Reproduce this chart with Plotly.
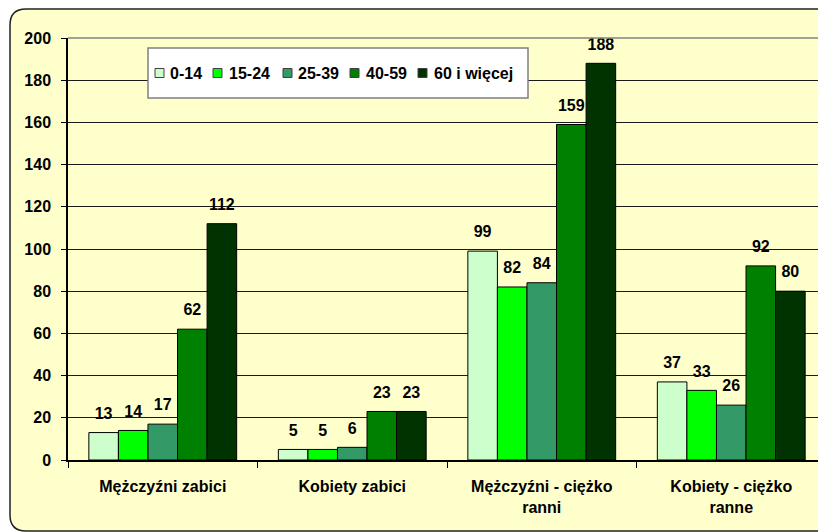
import plotly.graph_objects as go

categories = ["Mężczyźni zabici", "Kobiety zabici", "Mężczyźni - ciężko<br>ranni", "Kobiety - ciężko<br>ranne"]
series_names = ["0-14", "15-24", "25-39", "40-59", "60 i więcej"]
values_0_14 = [13, 5, 99, 37]
values_15_24 = [14, 5, 82, 33]
values_25_39 = [17, 6, 84, 26]
values_40_59 = [62, 23, 159, 92]
values_60_plus = [112, 23, 188, 80]
series_values = [values_0_14, values_15_24, values_25_39, values_40_59, values_60_plus]
colors = ["#CCFFCC", "#00FF00", "#339966", "#008000", "#003300"]
y_ticks = [0, 20, 40, 60, 80, 100, 120, 140, 160, 180, 200]

FONT = "Arial, 'Liberation Sans', sans-serif"
FS = 16
OFF = 8  # page body margin offset
W, H = 826 - OFF, 532 - OFF
# reference page coordinates of plot area: left 68, top 38, bottom 460, right 826
ML, MT = 68 - OFF, 38 - OFF
MB = H - (460 - OFF)
MR = W - (826 - OFF)
PW, PH = W - ML - MR, H - MT - MB


def px_x(p):
    """reference page x -> paper fraction"""
    return (p - OFF - ML) / PW


def px_y(p):
    """reference page y -> paper fraction"""
    return (H - MB - (p - OFF)) / PH


fig = go.Figure()
for name, vals, col in zip(series_names, series_values, colors):
    fig.add_trace(go.Bar(
        x=categories, y=vals, name=name,
        marker=dict(color=col, line=dict(color="#000000", width=1)),
        offsetgroup=name, showlegend=False,
    ))
for name, vals in zip(series_names, series_values):
    fig.add_trace(go.Scatter(
        x=categories, y=vals, mode="markers+text", text=[str(v) for v in vals],
        textposition="top center", marker=dict(size=14, opacity=0),
        textfont=dict(family=FONT, size=FS, color="#000000", weight="bold"),
        showlegend=False, hoverinfo="skip", cliponaxis=False, offsetgroup=name,
    ))

# rounded chart border
x0, x1 = px_x(10), px_x(850)
y0, y1 = px_y(531), px_y(9)
rx = 16 / PW
ry = 16 / PH
path = (f"M {x0+rx},{y1} L {x1},{y1} L {x1},{y0} L {x0+rx},{y0} "
        f"Q {x0},{y0} {x0},{y0+ry} L {x0},{y1-ry} Q {x0},{y1} {x0+rx},{y1} Z")
shapes = [
    dict(type="path", path=path, xref="paper", yref="paper", fillcolor="#FFFFCC",
         line=dict(color="#222222", width=1.5), layer="below"),
    dict(type="line", x0=0, x1=1, y0=1, y1=1, xref="paper", yref="paper",
         line=dict(color="#808080", width=1.5), layer="above"),
    # legend box
    dict(type="rect", x0=px_x(148), x1=px_x(528), y0=px_y(98), y1=px_y(48), xref="paper", yref="paper",
         fillcolor="#FFFFFF", line=dict(color="#808080", width=1.5), layer="above"),
]

# manual legend (squares + labels)
legend_sq_x = [155, 213, 283, 350, 418]
legend_txt_x = [168, 227, 296, 364, 432]
annotations = []
for name, col, sx, tx in zip(series_names, colors, legend_sq_x, legend_txt_x):
    shapes.append(dict(type="rect", x0=px_x(sx), x1=px_x(sx + 9), y0=px_y(77.5), y1=px_y(68.5),
                       xref="paper", yref="paper", fillcolor=col,
                       line=dict(color="#404040", width=1), layer="above"))
    annotations.append(dict(text=name, x=px_x(tx), y=px_y(73), xref="paper", yref="paper",
                            xanchor="left", yanchor="middle", showarrow=False,
                            font=dict(family=FONT, size=FS, color="#000000", weight="bold")))

fig.update_layout(
    width=W, height=H,
    margin=dict(l=ML, r=MR, t=MT, b=MB, autoexpand=False),
    paper_bgcolor="#FFFFFF", plot_bgcolor="#FFFFCC",
    barmode="group", bargap=0.22, bargroupgap=0,
    scattermode="group", scattergap=0.22,
    font=dict(family=FONT, size=FS, color="#000000", weight="bold"),
    showlegend=False,
    shapes=shapes,
    annotations=annotations,
    xaxis=dict(type="category", showgrid=False, showline=True, linecolor="#000000", linewidth=1.5,
               ticks="outside", ticklen=6, tickcolor="#000000", tickson="boundaries",
               tickfont=dict(family=FONT, size=FS, color="#000000", weight="bold"), ticklabelstandoff=11),
    yaxis=dict(range=[0, 200], tickvals=y_ticks, showgrid=True, gridcolor="#1a1a1a", gridwidth=1,
               showline=True, linecolor="#000000", linewidth=1.5, ticks="outside", ticklen=5,
               tickcolor="#000000", zeroline=False,
               tickfont=dict(family=FONT, size=FS, color="#000000", weight="bold"), ticklabelstandoff=7),
)
fig.write_html("out.html")
